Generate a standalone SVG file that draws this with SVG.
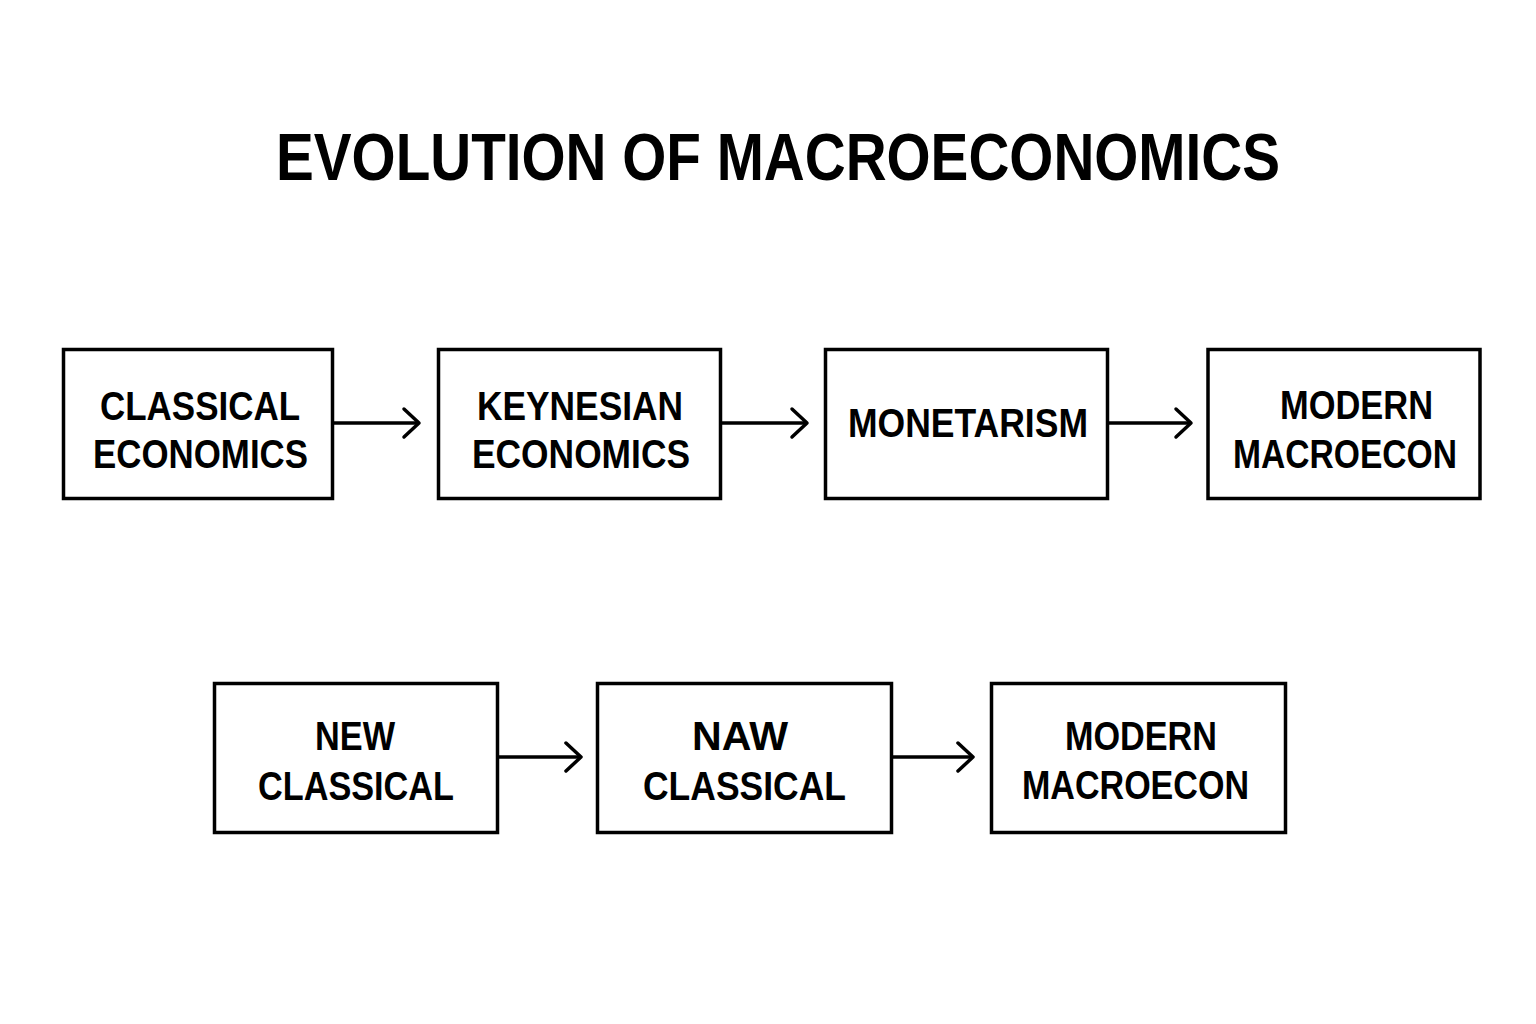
<svg xmlns="http://www.w3.org/2000/svg" width="1536" height="1024" viewBox="0 0 1536 1024">
  <defs>
    <style>
      .box { fill: #ffffff; stroke: #000000; stroke-width: 3.5; }
      .lbl { font-family: "Liberation Sans", Arial, sans-serif; font-weight: bold; font-size: 40px; fill: #000000; }
      .title { font-family: "Liberation Sans", Arial, sans-serif; font-weight: bold; font-size: 67px; fill: #000000; }
      .conn { stroke: #000000; stroke-width: 3.5; fill: none; }
    </style>
    <marker id="chev" markerUnits="userSpaceOnUse" markerWidth="22" markerHeight="34" viewBox="0 0 22 34" refX="18" refY="17" orient="auto">
      <path d="M3,3 L18,17 L3,31" fill="none" stroke="#000000" stroke-width="3.5" stroke-linecap="round" stroke-linejoin="round"/>
    </marker>
  </defs>
  <rect width="1536" height="1024" fill="#ffffff"/>

  <text class="title" x="276" y="180" textLength="1004" lengthAdjust="spacingAndGlyphs">EVOLUTION OF MACROECONOMICS</text>

  <g id="connectors">
    <line class="conn" x1="333" y1="423" x2="419" y2="423" marker-end="url(#chev)"/>
    <line class="conn" x1="721" y1="423" x2="807" y2="423" marker-end="url(#chev)"/>
    <line class="conn" x1="1108" y1="423" x2="1191" y2="423" marker-end="url(#chev)"/>
    <line class="conn" x1="498" y1="757" x2="581" y2="757" marker-end="url(#chev)"/>
    <line class="conn" x1="892" y1="757" x2="973" y2="757" marker-end="url(#chev)"/>
  </g>

  <g id="node-classical">
    <rect class="box" x="63.5" y="349.5" width="269" height="149"/>
    <text class="lbl" x="100" y="420" textLength="200" lengthAdjust="spacingAndGlyphs">CLASSICAL</text>
    <text class="lbl" x="93" y="468" textLength="215" lengthAdjust="spacingAndGlyphs">ECONOMICS</text>
  </g>

  <g id="node-keynesian">
    <rect class="box" x="438.5" y="349.5" width="282" height="149"/>
    <text class="lbl" x="477" y="420" textLength="206" lengthAdjust="spacingAndGlyphs">KEYNESIAN</text>
    <text class="lbl" x="472" y="468" textLength="218" lengthAdjust="spacingAndGlyphs">ECONOMICS</text>
  </g>

  <g id="node-monetarism">
    <rect class="box" x="825.5" y="349.5" width="282" height="149"/>
    <text class="lbl" x="848" y="437" textLength="240" lengthAdjust="spacingAndGlyphs">MONETARISM</text>
  </g>

  <g id="node-modern-1">
    <rect class="box" x="1208" y="349.5" width="272" height="149"/>
    <text class="lbl" x="1280" y="419" textLength="153" lengthAdjust="spacingAndGlyphs">MODERN</text>
    <text class="lbl" x="1233" y="468" textLength="224" lengthAdjust="spacingAndGlyphs">MACROECON</text>
  </g>

  <g id="node-new-classical">
    <rect class="box" x="214.5" y="683.5" width="283" height="149"/>
    <text class="lbl" x="315" y="750" textLength="80" lengthAdjust="spacingAndGlyphs">NEW</text>
    <text class="lbl" x="258" y="800" textLength="196" lengthAdjust="spacingAndGlyphs">CLASSICAL</text>
  </g>

  <g id="node-naw-classical">
    <rect class="box" x="597.5" y="683.5" width="294" height="149"/>
    <text class="lbl" x="692" y="750" textLength="96" lengthAdjust="spacingAndGlyphs">NAW</text>
    <text class="lbl" x="643" y="800" textLength="203" lengthAdjust="spacingAndGlyphs">CLASSICAL</text>
  </g>

  <g id="node-modern-2">
    <rect class="box" x="991.5" y="683.5" width="294" height="149"/>
    <text class="lbl" x="1065" y="750" textLength="152" lengthAdjust="spacingAndGlyphs">MODERN</text>
    <text class="lbl" x="1022" y="799" textLength="227" lengthAdjust="spacingAndGlyphs">MACROECON</text>
  </g>
</svg>
